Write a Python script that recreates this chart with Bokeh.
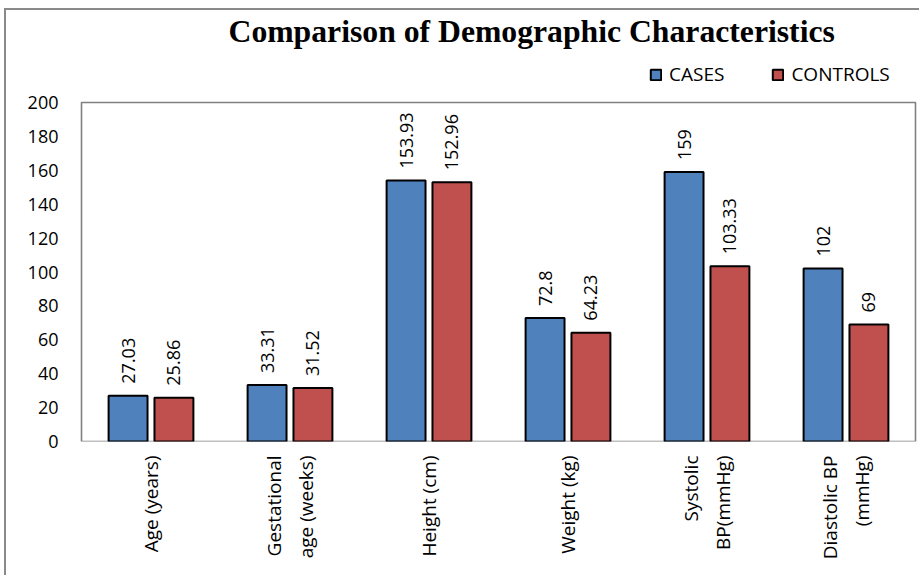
import math
from bokeh.plotting import figure
from bokeh.models import (ColumnDataSource, FactorRange, Range1d, FixedTicker, LabelSet,
                          Title, Legend, LegendItem)
from bokeh.core.properties import value
from bokeh.transform import dodge
from bokeh.embed import file_html
from bokeh.resources import INLINE

categories = ["Age (years)", "Gestational\nage (weeks)", "Height (cm)", "Weight (kg)",
              "Systolic\nBP(mmHg)", "Diastolic BP\n(mmHg)"]
cases = [27.03, 33.31, 153.93, 72.8, 159, 102]
controls = [25.86, 31.52, 152.96, 64.23, 103.33, 69]
y_ticks = [0, 20, 40, 60, 80, 100, 120, 140, 160, 180, 200]
y_max = 200
title_text = "Comparison of Demographic Characteristics"

FONT = "Open Sans"

src = ColumnDataSource(dict(
    cat=categories,
    cases=cases,
    controls=controls,
    cases_lbl=[f"{v:g}" for v in cases],
    controls_lbl=[f"{v:g}" for v in controls],
))

# frame is 1px wider than the plot box on each side and extends above it,
# so the box outline and the legend are fully visible inside the frame
p = figure(width=915, height=567,
           x_range=FactorRange(factors=categories, range_padding=0.0144,
                               range_padding_units="absolute"),
           y_range=Range1d(0, y_max * 393 / 339), output_backend="svg", toolbar_location=None,
           min_border_left=73, min_border_right=4, min_border_top=38, min_border_bottom=136)
p.styles = {"border-left": "2px solid #8a8a8a", "border-top": "2px solid #8a8a8a",
            "margin-left": "4px", "margin-top": "8px"}

p.outline_line_color = None
p.xgrid.visible = False
p.ygrid.visible = False

# plot-area box (0..200)
p.quad(left=[0], right=[len(categories)], bottom=[0], top=[y_max], fill_alpha=0,
       line_color="#808080", line_width=1.6, level="underlay")

r1 = p.vbar(x=dodge("cat", -0.165, range=p.x_range), top="cases", width=0.28, source=src,
            fill_color="#4F81BD", line_color="black", line_width=2)
r2 = p.vbar(x=dodge("cat", 0.165, range=p.x_range), top="controls", width=0.28, source=src,
            fill_color="#C0504D", line_color="black", line_width=2)

for col, off in (("cases", -0.165), ("controls", 0.165)):
    p.add_layout(LabelSet(x=dodge("cat", off, range=p.x_range), y=col, text=col + "_lbl",
                          source=src, angle=math.pi / 2, text_align="left",
                          text_baseline="middle", y_offset=12, text_font=value(FONT),
                          text_font_size=value("18px"), text_color="black"))

# axes
p.yaxis.ticker = FixedTicker(ticks=y_ticks)
p.yaxis.axis_line_color = None
p.yaxis.major_tick_line_color = None
p.yaxis.minor_tick_line_color = None
p.yaxis.major_tick_out = 0
p.yaxis.major_label_standoff = 21
p.yaxis.major_label_text_font = FONT
p.yaxis.major_label_text_font_size = "18px"
p.yaxis.major_label_text_color = "black"

p.xaxis.axis_line_color = None
p.xaxis.major_tick_line_color = None
p.xaxis.major_tick_out = 0
p.xaxis.major_label_orientation = math.pi / 2
p.xaxis.major_label_standoff = 14
p.xaxis.major_label_text_font = FONT
p.xaxis.major_label_text_font_size = "19px"
p.xaxis.major_label_text_color = "black"

legend = Legend(items=[LegendItem(label="CASES", renderers=[r1]),
                       LegendItem(label="CONTROLS", renderers=[r2])],
                orientation="horizontal", location=(570, 354), spacing=47,
                glyph_width=13, glyph_height=13, label_standoff=7, padding=0, margin=0,
                border_line_color=None, background_fill_alpha=0,
                label_text_font=FONT, label_text_font_size="19px", label_text_color="black")
p.add_layout(legend, "center")

p.add_layout(Title(text=title_text, align="left", offset=149, standoff=0,
                   text_font="Liberation Serif", text_font_style="bold",
                   text_font_size="31.7px", text_color="black"), "above")

open("out.html", "w").write(file_html(p, INLINE))
